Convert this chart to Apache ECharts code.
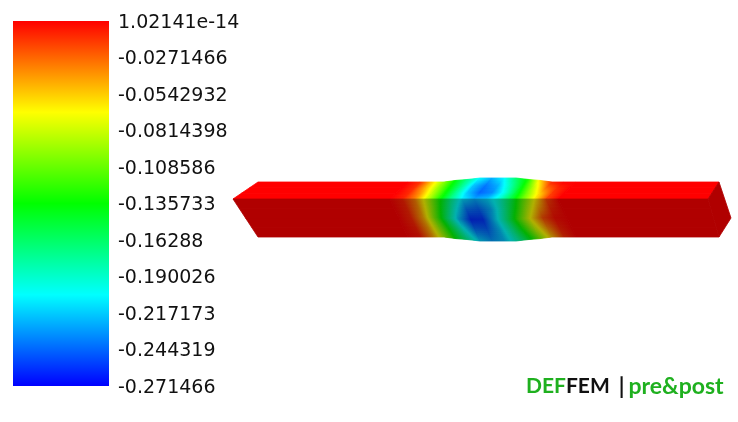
<!DOCTYPE html>
<html><head><meta charset="utf-8">
<style>html,body{margin:0;padding:0;background:#fff}#c{width:738px;height:422px}</style>
<script src="https://cdn.jsdelivr.net/npm/echarts@6/dist/echarts.min.js"></script>
</head><body><div id="c"></div>
<script>
// ---- data ----
const tickLabels = ['-0.271466','-0.244319','-0.217173','-0.190026','-0.16288','-0.135733','-0.108586','-0.0814398','-0.0542932','-0.0271466','1.02141e-14'];
const fieldMin = -0.271466, fieldMax = 1.02141e-14;
const rampColors = ['#0000ff','#00ffff','#00ff00','#ffff00','#ff0000'];
// nodal stations along the beam
const stations = [233,390,402,414,426,438,450,462,474,486,498,510,522,534,546,558,708];
// nodal deflection on the upper face, from the front edge to the back edge
const topEdge   = [0,0,-0.008,-0.032,-0.078,-0.125,-0.170,-0.205,-0.225,-0.220,-0.195,-0.155,-0.110,-0.065,-0.018,0,0];
const topNear   = [0,0,-0.010,-0.040,-0.085,-0.130,-0.175,-0.220,-0.245,-0.235,-0.200,-0.150,-0.100,-0.055,-0.015,0,0];
const topFar    = [0,0,-0.012,-0.050,-0.095,-0.135,-0.175,-0.220,-0.240,-0.225,-0.185,-0.140,-0.085,-0.030,-0.010,0,0];
const topBack   = [0,0,-0.012,-0.055,-0.100,-0.140,-0.175,-0.205,-0.225,-0.205,-0.165,-0.130,-0.060,-0.010,0,0,0];
// nodal deflection on the front face, from top to bottom
const frontRow0 = [0,0,-0.008,-0.032,-0.078,-0.125,-0.170,-0.210,-0.225,-0.215,-0.195,-0.160,-0.115,-0.070,-0.020,0,0];
const frontRow1 = [0,0,-0.009,-0.038,-0.090,-0.145,-0.195,-0.240,-0.245,-0.225,-0.185,-0.140,-0.090,-0.045,-0.010,0,0];
const frontRow2 = [0,0,-0.010,-0.045,-0.105,-0.165,-0.220,-0.260,-0.258,-0.215,-0.170,-0.115,-0.065,-0.020,-0.003,0,0];
const frontRow3 = [0,0,-0.008,-0.042,-0.098,-0.150,-0.200,-0.240,-0.245,-0.220,-0.180,-0.130,-0.080,-0.035,-0.008,0,0];
const frontRow4 = [0,0,-0.005,-0.040,-0.090,-0.140,-0.180,-0.215,-0.230,-0.220,-0.190,-0.150,-0.100,-0.050,-0.012,0,0];
// ---- geometry of the projected body ----
const topRows = [topEdge,topNear,topFar,topBack];
const frontRows = [frontRow0,frontRow1,frontRow2,frontRow3,frontRow4];
const bulge = [0,0,0,0,0,1.6,2.6,4,4,4,4,2.6,1.6,0,0,0,0];
const shearTop   = [25,18,18,18,18,18,18,18,18,18,18,18,18,18,18,18,11];
const shearFront = [25,18,18,18,18,18,18,18,18,18,18,18,18,18,18,18,11];
const edgeY = 199, topDepth = 17, frontDepth = 38, shade = 0.69;

const hex = c => [1,3,5].map(k => parseInt(c.substr(k,2),16));
const rampRGB = rampColors.map(hex);
function colorAt(v, k){
  let u = (v - fieldMin)/(fieldMax - fieldMin);
  u = Math.max(0,Math.min(1,u))*(rampRGB.length-1);
  const i = Math.min(rampRGB.length-2,Math.floor(u)), f = u-i;
  const c = rampRGB[i].map((a,n)=>Math.round((a+(rampRGB[i+1][n]-a)*f)*k));
  return 'rgb('+c.join(',')+')';
}
const faces = [
  {rows:topRows, dir:-1, depth:topDepth, shear:shearTop, k:1},
  {rows:frontRows, dir:1, depth:frontDepth, shear:shearFront, k:shade}
];
const quads = [];
faces.forEach((f,fi)=>{
  for(let r=0;r<f.rows.length-1;r++) for(let c=0;c<stations.length-1;c++){
    quads.push([fi,r,c,f.rows[r][c]]);
  }
});
function renderQuad(params, api){
  const fi=api.value(0), r=api.value(1), c=api.value(2), f=faces[fi];
  const n=f.rows.length-1;
  const node=(col,t)=>api.coord([stations[col]+f.shear[col]*t, edgeY+f.dir*t*(f.depth+bulge[col])]);
  const a=f.rows[r][c],b=f.rows[r][c+1],d=f.rows[r+1][c],e=f.rows[r+1][c+1];
  const uniform=a===b&&a===d&&a===e;
  const K=uniform?1:Math.max(2,Math.round(f.depth/n/0.6));
  const kids=[];
  for(let q=0;q<K;q++){
    const s0=q/K,s1=(q+1)/K,sm=(s0+s1)/2;
    const t0=(r+s0)/n,t1=(r+s1)/n;
    const L0=node(c,t0),R0=node(c+1,t0),R1=node(c+1,t1),L1=node(c,t1);
    const vl=a+(d-a)*sm,vr=b+(e-b)*sm;
    const stops=[];
    for(let i=0;i<=12;i++) stops.push({offset:i/12,color:colorAt(vl+(vr-vl)*i/12,f.k)});
    const xa=(L0[0]+L1[0])/2,xb=(R0[0]+R1[0])/2;
    const fill=uniform?colorAt(a,f.k):new echarts.graphic.LinearGradient(xa,0,xb,0,stops,true);
    kids.push({type:'polygon',shape:{points:[L0,R0,R1,L1]},style:{fill:fill,stroke:fill,lineWidth:0.8},silent:true});
  }
  return {type:'group',children:kids};
}
const capData=[[708,199,0],[719,182,0],[731,218,0],[719,237,0]];
function renderCap(params, api){
  if(params.dataIndex!==0) return null;
  const pts=capData.map(p=>api.coord([p[0],p[1]]));
  const col=colorAt(capData[0][2],shade);
  return {type:'polygon',shape:{points:pts},style:{fill:col,stroke:col,lineWidth:0.8},silent:true};
}
function renderBar(params, api){
  const a=api.coord([0,fieldMin]), b=api.coord([1,fieldMax]);
  const stops=rampColors.map((c,i)=>({offset:1-i/(rampColors.length-1),color:c}));
  return {type:'rect',shape:{x:a[0],y:b[1],width:b[0]-a[0],height:a[1]-b[1]},
    style:{fill:new echarts.graphic.LinearGradient(0,b[1],0,a[1],stops,true)},silent:true};
}
const chart=echarts.init(document.getElementById('c'),null,{renderer:'canvas'});
chart.setOption({
  animation:false,
  backgroundColor:'#fff',
  grid:[
    {left:13,top:21,width:96,height:365,show:false},
    {left:0,top:0,right:0,bottom:0,show:false},
    {left:13,top:23,width:96,height:365,show:false}
  ],
  xAxis:[
    {gridIndex:0,type:'value',min:0,max:1,show:false},
    {gridIndex:1,type:'value',min:0,max:738,show:false},
    {gridIndex:2,type:'value',min:0,max:1,show:false}
  ],
  yAxis:[
    {gridIndex:0,type:'value',min:fieldMin,max:fieldMax,show:false},
    {gridIndex:1,type:'value',min:0,max:422,inverse:true,show:false},
    {gridIndex:2,type:'category',position:'right',boundaryGap:false,data:tickLabels,
     axisLine:{show:false},axisTick:{show:false},splitLine:{show:false},
     axisLabel:{interval:0,margin:9,fontFamily:'DejaVu Sans',fontSize:19,color:'#111'}}
  ],
  title:{left:526,top:375,padding:0,
    text:'{g|DEF}{k|FEM}{s||}{p|pre&post}',
    textStyle:{rich:{
      g:{fontFamily:'Lato',fontWeight:'bold',fontSize:21,color:'#1fb01f'},
      k:{fontFamily:'Lato',fontWeight:'bold',fontSize:21,color:'#111'},
      s:{fontFamily:'Lato',fontWeight:'bold',fontSize:22,color:'#111',padding:[0,4,0,9]},
      p:{fontFamily:'Lato',fontWeight:'bold',fontSize:23,color:'#1fb01f'}
    }}},
  series:[
    {type:'custom',xAxisIndex:0,yAxisIndex:0,data:[[0,fieldMin]],renderItem:renderBar,silent:true,clip:false},
    {type:'custom',xAxisIndex:1,yAxisIndex:1,data:quads,renderItem:renderQuad,silent:true,clip:false,
     encode:{x:2,y:1}},
    {type:'custom',xAxisIndex:1,yAxisIndex:1,data:capData,renderItem:renderCap,silent:true,clip:false}
  ]
});
</script></body></html>
